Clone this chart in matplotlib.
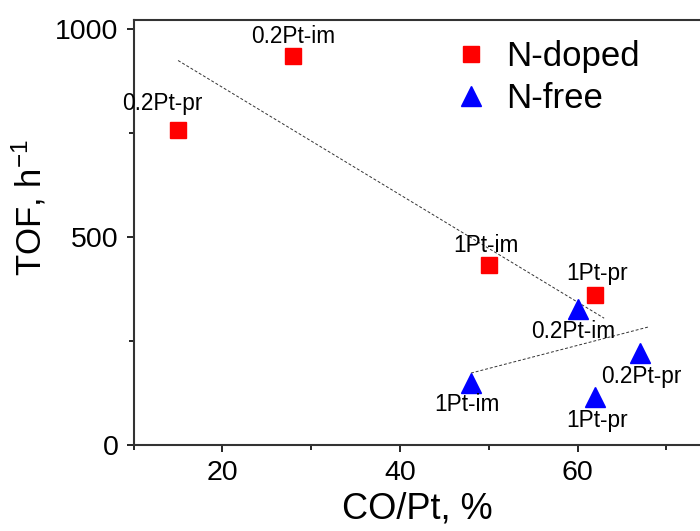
import numpy as np
import matplotlib
matplotlib.use('Agg')
import matplotlib.pyplot as plt

plt.rcParams['font.family'] = ['Liberation Sans', 'DejaVu Sans']
plt.rcParams['mathtext.default'] = 'regular'

# N-doped (红色方块)
doped_x = [15, 28, 50, 62]
doped_y = [757, 937, 433, 360]
doped_labels = ['0.2Pt-pr', '0.2Pt-im', '1Pt-im', '1Pt-pr']

# N-free (蓝色三角)
free_x = [60, 48, 67, 62]
free_y = [326, 150, 221, 116]
free_labels = ['0.2Pt-im', '1Pt-im', '0.2Pt-pr', '1Pt-pr']

# 趋势线
fit_doped_x = [15, 63]
fit_doped_y = [925, 305]
fit_free_x = [48, 68]
fit_free_y = [173, 284]

# 标签偏移 (points)
doped_offsets = [(-11, 19), (0, 14), (-2, 14), (1, 16)]
free_offsets = [(-3, -16), (-3, -16), (1, -17), (1, -17)]

fig = plt.figure(figsize=(7, 5.31), dpi=100)
ax = fig.add_axes([0.191, 0.162, 0.809, 0.800])

# 零线 (原图底部的虚线)
ax.plot([13, 65], [0, 0], ls=':', color='#cc3333', lw=0.8, zorder=1)
ax.plot([64, 68], [0, 0], ls=':', color='#3333cc', lw=0.8, zorder=1)

ax.plot(fit_doped_x, fit_doped_y, ls=(0, (3, 2)), color='#333333', lw=0.7)
ax.plot(fit_free_x, fit_free_y, ls=(0, (3, 2)), color='#333333', lw=0.7)

ax.plot(doped_x, doped_y, 's', color='red', ms=11.5, ls='none', label='N-doped', zorder=3)
ax.plot(free_x, free_y, '^', color='blue', ms=14, ls='none', label='N-free', zorder=3)

for x, y, t, off in zip(doped_x, doped_y, doped_labels, doped_offsets):
    ax.annotate(t, (x, y), xytext=off, textcoords='offset points',
                ha='center', va='center', fontsize=16.3)
for x, y, t, off in zip(free_x, free_y, free_labels, free_offsets):
    ax.annotate(t, (x, y), xytext=off, textcoords='offset points',
                ha='center', va='center', fontsize=16.3)

ax.set_xlim(10, 73.8)
ax.set_ylim(0, 1022)
ax.set_xticks([20, 40, 60])
ax.set_xticks([10, 30, 50, 70], minor=True)
ax.set_yticks([0, 500, 1000])
ax.set_yticks([250, 750], minor=True)

for s in ax.spines.values():
    s.set_linewidth(1.5)
    s.set_color('#333333')
ax.spines['right'].set_visible(False)

ax.tick_params(which='major', direction='out', length=5, width=1.2, labelsize=20.5, pad=6)
ax.tick_params(which='minor', direction='out', length=3.5, width=1.2)

ax.set_xlabel('CO/Pt, %', fontsize=26, labelpad=4)
ax.set_ylabel('TOF, h$^{\\mathregular{-1}}$', fontsize=25)
ax.yaxis.set_label_coords(-0.15, 0.56)

ax.legend(loc='upper left', bbox_to_anchor=(0.535, 0.985), frameon=False,
          fontsize=25, handletextpad=0.4, labelspacing=0.25, borderaxespad=0,
          handlelength=1.2, markerscale=1.0)

fig.savefig('out.png', dpi=100)
